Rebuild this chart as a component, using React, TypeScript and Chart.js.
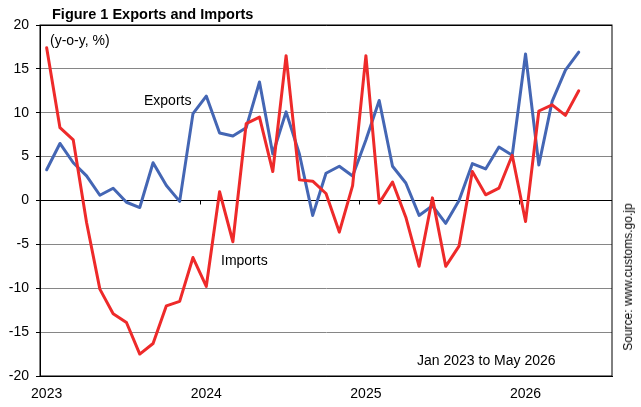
import React, { useEffect, useRef } from "react";
import { Chart, registerables } from "chart.js";

Chart.register(...registerables);

const MONTHS = ["Jan", "Feb", "Mar", "Apr", "May", "Jun", "Jul", "Aug", "Sep", "Oct", "Nov", "Dec"];
const YEARS = [2023, 2024, 2025, 2026];
const CATEGORY_COUNT = 43; // Jan 2023 .. Jul 2026 (axis extends past last data point)
const categories: string[] = YEARS.flatMap((y) => MONTHS.map((m) => `${m} ${y}`)).slice(0, CATEGORY_COUNT);

const exportsYoY = [
  3.5, 6.5, 4.3, 2.8, 0.6, 1.4, -0.2, -0.8, 4.3, 1.7, -0.1, 9.9,
  11.9, 7.7, 7.35, 8.3, 13.5, 5.3, 10.1, 5.3, -1.7, 3.1, 3.9, 2.8,
  6.9, 11.4, 3.9, 2.0, -1.7, -0.6, -2.6, 0.0, 4.2, 3.6, 6.1, 5.15,
  16.7, 4.05, 11.3, 14.85, 16.9,
];

const importsYoY = [
  17.4, 8.3, 6.9, -2.5, -10.1, -12.9, -13.9, -17.5, -16.3, -12.0, -11.5, -6.5,
  -9.8, 1.0, -4.7, 8.75, 9.5, 3.3, 16.5, 2.35, 2.2, 0.8, -3.6, 1.7,
  16.5, -0.3, 2.1, -1.9, -7.5, 0.3, -7.5, -5.2, 3.3, 0.65, 1.4, 5.15,
  -2.4, 10.2, 10.9, 9.7, 12.5,
];

const yearTickLabels: Record<string, string> = {
  "Jan 2023": "2023",
  "Jan 2024": "2024",
  "Jan 2025": "2025",
  "Jan 2026": "2026",
};

const FONT = '"Liberation Sans", Arial, Helvetica, sans-serif';
const BLUE = "#4466B4";
const RED = "#EE2A2A";

const framePlugin = {
  id: "frameAndTicks",
  beforeDatasetsDraw(chart: any) {
    const { ctx, chartArea, scales } = chart;
    const x = scales.x;
    const y = scales.y;
    ctx.save();
    ctx.strokeStyle = "#000";
    ctx.lineWidth = 1;
    ctx.strokeRect(chartArea.left, chartArea.top, chartArea.right - chartArea.left, chartArea.bottom - chartArea.top);
    const y0 = y.getPixelForValue(0);
    ctx.beginPath();
    categories.forEach((c, i) => {
      if (i > 0 && yearTickLabels[c]) {
        const px = Math.round((x.getPixelForValue(i - 1) + x.getPixelForValue(i)) / 2) + 0.5;
        ctx.moveTo(px, y0);
        ctx.lineTo(px, y0 + 4);
      }
    });
    ctx.stroke();
    ctx.restore();
  },
};

export default function App() {
  const canvasRef = useRef<HTMLCanvasElement | null>(null);

  useEffect(() => {
    if (!canvasRef.current) return;
    const chart = new Chart(canvasRef.current, {
      type: "line",
      data: {
        labels: categories,
        datasets: [
          {
            label: "Imports",
            data: importsYoY,
            borderColor: RED,
            backgroundColor: RED,
            borderWidth: 3,
            pointRadius: 0,
            tension: 0,
            borderJoinStyle: "round",
            borderCapStyle: "round",
          },
          {
            label: "Exports",
            data: exportsYoY,
            borderColor: BLUE,
            backgroundColor: BLUE,
            borderWidth: 3,
            pointRadius: 0,
            tension: 0,
            borderJoinStyle: "round",
            borderCapStyle: "round",
          },
        ],
      },
      options: {
        animation: false,
        responsive: false,
        maintainAspectRatio: false,
        layout: { padding: { left: 0, top: 25, right: 29, bottom: 0 } },
        plugins: {
          legend: { display: false },
          tooltip: { enabled: false },
          title: { display: false },
        },
        scales: {
          x: {
            type: "category",
            offset: true,
            grid: { offset: true, drawOnChartArea: false, drawTicks: false },
            border: { display: true, color: "#000", width: 1 },
            ticks: {
              autoSkip: false,
              maxRotation: 0,
              minRotation: 0,
              padding: 10,
              color: "#000",
              font: { family: FONT, size: 14 },
              callback: (_v: any, i: number) => yearTickLabels[categories[i]] || "",
            },
            afterFit: (scale: any) => {
              scale.height = 31;
            },
          },
          y: {
            min: -20,
            max: 20,
            ticks: {
              stepSize: 5,
              padding: 7,
              color: "#000",
              font: { family: FONT, size: 14 },
            },
            grid: {
              color: (c: any) => (c.tick && (c.tick.value === 0 || Math.abs(c.tick.value) === 20) ? "#000" : "#868686"),
              tickColor: "#000",
              tickLength: 4,
              lineWidth: 1,
            },
            border: { display: true, color: "#000", width: 1 },
            afterFit: (scale: any) => {
              scale.width = 40;
            },
          },
        },
      } as any,
      plugins: [framePlugin],
    });
    return () => chart.destroy();
  }, []);

  const txt = (extra: React.CSSProperties): React.CSSProperties => ({
    position: "absolute",
    fontFamily: FONT,
    fontSize: 14,
    lineHeight: "16px",
    color: "#000",
    whiteSpace: "nowrap",
    ...extra,
  });

  return (
    <div style={{ position: "fixed", left: 0, top: 0, width: 641, height: 407, background: "#fff", overflow: "hidden" }}>
      <canvas ref={canvasRef} width={641} height={407} style={{ display: "block", width: 641, height: 407 }} />
      <div style={txt({ left: 52, top: 6, fontWeight: "bold", fontSize: 14.5 })}>Figure 1 Exports and Imports</div>
      <div style={txt({ left: 50, top: 32 })}>(y-o-y, %)</div>
      <div style={txt({ left: 144, top: 92 })}>Exports</div>
      <div style={txt({ left: 221, top: 252 })}>Imports</div>
      <div style={txt({ left: 417, top: 352 })}>Jan 2023 to May 2026</div>
      <div
        style={txt({
          left: 628,
          top: 277,
          fontSize: 12,
          lineHeight: "14px",
          transform: "translate(-50%, -50%) rotate(-90deg)",
        })}
      >
        Source: www.customs.go.jp
      </div>
    </div>
  );
}
